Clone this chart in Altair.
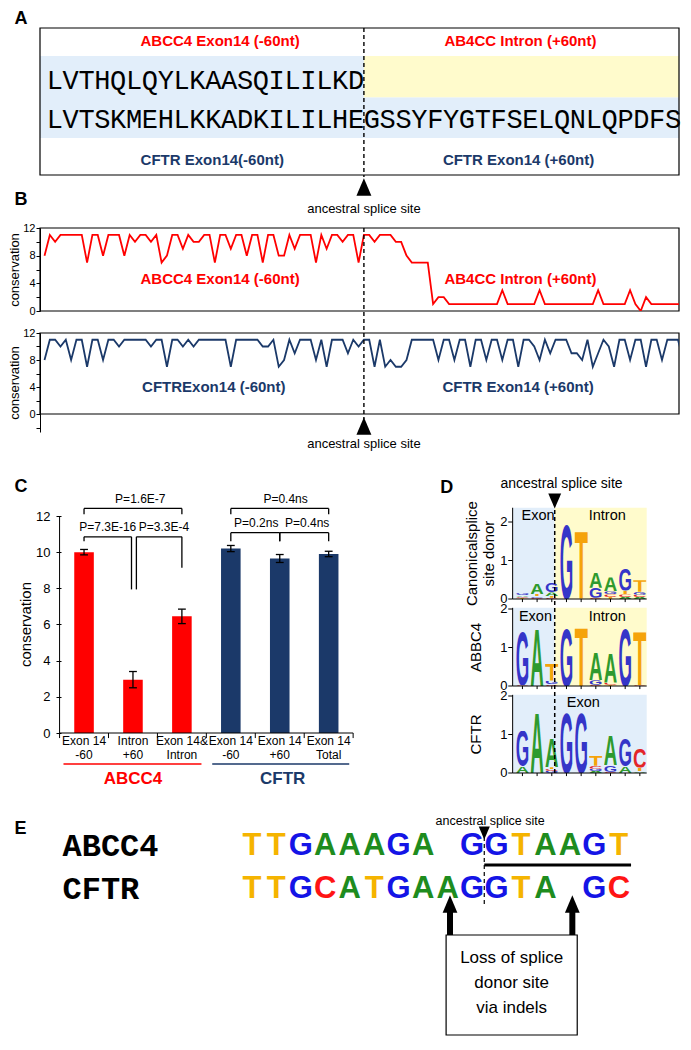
import altair as alt
import pandas as pd
from urllib.parse import quote

SANS = "Liberation Sans"
MONO = "Liberation Mono"
RED = "#FF0000"
NAVY = "#1B3969"
BLUE_BG = "#E2EEFA"
YELLOW_BG = "#FFFBCC"
W = 639  # plot-area width of every panel row (keeps the page inside the 675px body)

# ======================= data =======================
SPLICE_LABEL = "ancestral splice site"

# Panel A
A_TOP_LABELS = ["ABCC4 Exon14 (-60nt)", "AB4CC Intron (+60nt)"]
A_BOTTOM_LABELS = ["CFTR Exon14(-60nt)", "CFTR Exon14 (+60nt)"]
A_ABCC4_PEPTIDE = "LVTHQLQYLKAASQILILKD"
A_CFTR_PEPTIDE = "LVTSKMEHLKKADKILILHEGSSYFYGTFSELQNLQPDFS"

# Panel B (conservation per nucleotide, -60 .. +60)
B_ABCC4 = [8, 11, 10, 11, 11, 11, 11, 11, 7, 11, 11, 8, 11, 11, 11, 8, 11, 10, 11, 11,
           10, 11, 7, 8, 11, 11, 9, 11, 10, 10, 11, 11, 7, 11, 11, 9, 11, 11, 8, 11,
           11, 7, 11, 11, 8, 8, 11, 9, 11, 11, 11, 7, 11, 9, 11, 11, 10, 11, 11, 7,
           11, 11, 10, 11, 11, 11, 10, 10, 8, 7, 7, 7, 7, 1, 2, 2, 1, 1, 1, 1,
           1, 1, 1, 1, 1, 1, 3, 1, 1, 1, 1, 1, 1, 3, 1, 1, 1, 1, 1, 1,
           1, 1, 1, 1, 3, 1, 1, 1, 1, 1, 3, 1, 0, 2, 1, 1, 1, 1, 1, 1, 1]
B_CFTR = [8, 11, 11, 10, 11, 8, 11, 11, 7, 11, 11, 8, 11, 11, 10, 11, 11, 11, 11, 11,
          10, 11, 11, 7, 11, 11, 10, 11, 10, 11, 11, 11, 11, 11, 11, 7, 11, 11, 11, 11,
          11, 10, 10, 11, 7, 8, 11, 9, 11, 11, 11, 8, 11, 7, 11, 11, 11, 9, 11, 10,
          11, 11, 7, 11, 7, 8, 7, 7, 8, 11, 11, 11, 11, 11, 8, 11, 11, 8, 11, 11,
          7, 11, 11, 8, 11, 11, 8, 11, 11, 7, 11, 11, 10, 8, 11, 9, 11, 11, 11, 9,
          9, 8, 11, 7, 9, 11, 10, 7, 11, 11, 8, 11, 11, 7, 11, 11, 8, 11, 11, 11, 8]
B_SPLICE_INDEX = 60
B_TOP_LABELS = ["ABCC4 Exon14 (-60nt)", "AB4CC Intron (+60nt)"]
B_BOTTOM_LABELS = ["CFTRExon14 (-60nt)", "CFTR Exon14 (+60nt)"]

# Panel C
C_GENES = ["ABCC4", "ABCC4", "ABCC4", "CFTR", "CFTR", "CFTR"]
C_CATEGORIES = ["Exon 14\n-60", "Intron\n+60", "Exon 14&\nIntron",
                "Exon 14\n-60", "Exon 14\n+60", "Exon 14\nTotal"]
C_MEANS = [10.0, 2.95, 6.45, 10.2, 9.65, 9.9]
C_ERRORS = [0.15, 0.45, 0.4, 0.17, 0.22, 0.15]
C_P_LABELS = ["P=1.6E-7", "P=7.3E-16", "P=3.3E-4", "P=0.4ns", "P=0.2ns", "P=0.4ns"]
C_P_FROM = [0, 0, 1, 3, 3, 4]
C_P_TO = [2, 1, 2, 5, 4, 5]
C_P_LEVEL = [12.42, 10.85, 10.85, 12.42, 11.08, 11.08]
C_P_LEFT_END = [12.09, 10.61, 7.94, 12.09, 10.61, 10.61]
C_P_RIGHT_END = [12.09, 7.94, 9.14, 12.09, 10.61, 10.61]

# Panel D (sequence logos, bits per letter, bottom -> top)
D_TITLES = ["Canonicalsplice\nsite donor", "ABBC4", "CFTR"]
D_LOGOS = [
    [[("T", 0.03), ("C", 0.03), ("A", 0.04), ("G", 0.05)],
     [("C", 0.03), ("G", 0.04), ("T", 0.06), ("A", 0.28)],
     [("C", 0.03), ("T", 0.05), ("A", 0.09), ("G", 0.25)],
     [("G", 1.96)],
     [("T", 1.78)],
     [("C", 0.03), ("G", 0.26), ("A", 0.41)],
     [("T", 0.05), ("C", 0.07), ("G", 0.08), ("A", 0.36)],
     [("A", 0.05), ("C", 0.07), ("T", 0.1), ("G", 0.58)],
     [("A", 0.05), ("C", 0.06), ("G", 0.08), ("T", 0.3)]],
    [[("C", 0.02), ("G", 1.42)],
     [("A", 1.52)],
     [("C", 0.04), ("G", 0.1), ("T", 0.46)],
     [("G", 1.5)],
     [("T", 1.55)],
     [("C", 0.03), ("G", 0.12), ("A", 0.72)],
     [("T", 0.03), ("C", 0.06), ("A", 0.78)],
     [("G", 1.52)],
     [("C", 0.02), ("T", 1.42)]],
    [[("A", 0.17), ("G", 0.92)],
     [("A", 1.6)],
     [("G", 0.05), ("C", 0.05), ("T", 0.05), ("A", 0.76)],
     [("G", 1.6)],
     [("G", 1.6)],
     [("A", 0.05), ("G", 0.06), ("C", 0.08), ("T", 0.27)],
     [("C", 0.03), ("G", 0.17), ("A", 0.8)],
     [("A", 0.18), ("G", 0.72)],
     [("A", 0.04), ("T", 0.1), ("C", 0.5)]],
]

# Panel E
E_GENES = ["ABCC4", "CFTR"]
E_SEQUENCES = ["TTGAAAGA GGTAAGT", "TTGCATGAAGGTA GC"]
E_SPLICE_SLOT = 10
E_INDEL_SLOTS = [8, 13]
E_NOTE = "Loss of splice\ndonor site\nvia indels"

D_COLORS = {"A": "#2E9A2E", "C": "#E3262A", "G": "#3535C8", "T": "#F5A30A"}
E_COLORS = {"A": "#1E8C1E", "C": "#FF1414", "G": "#1414E6", "T": "#F5B400"}

# ======================= helpers =======================
def dom(va, pa, vb, pb, p_lo, p_hi):
    k = (vb - va) / (pb - pa)
    return [va + (p_lo - pa) * k, va + (p_hi - pa) * k]


def X(f, d):
    return alt.X(f, type="quantitative", scale=alt.Scale(domain=d, nice=False, zero=False), axis=None)


def Y(f, d, axis=None):
    return alt.Y(f, type="quantitative", scale=alt.Scale(domain=d, nice=False, zero=False), axis=axis)


def texts(rows, xd, yd, yaxis=None, **kw):
    df = pd.DataFrame(rows, columns=["x", "y", "t"])
    kw.setdefault("font", SANS)
    kw.setdefault("color", "black")
    kw.setdefault("baseline", "middle")
    return alt.Chart(df).mark_text(**kw).encode(x=X("x", xd), y=Y("y", yd, yaxis), text="t:N")


def rules(rows, xd, yd, yaxis=None, **kw):
    df = pd.DataFrame(rows, columns=["x", "x2", "y", "y2"])
    kw.setdefault("color", "black")
    return alt.Chart(df).mark_rule(**kw).encode(x=X("x", xd), x2="x2", y=Y("y", yd, yaxis), y2="y2")


def rects(rows, xd, yd, yaxis=None, **kw):
    df = pd.DataFrame(rows, columns=["x", "x2", "y", "y2", "c"])
    return alt.Chart(df).mark_rect(**kw).encode(
        x=X("x", xd), x2="x2", y=Y("y", yd, yaxis), y2="y2", fill=alt.Fill("c:N", scale=None))


def points(rows, xd, yd, yaxis=None, **kw):
    df = pd.DataFrame(rows, columns=["x", "y"])
    return alt.Chart(df).mark_point(filled=True, color="black", opacity=1, **kw).encode(
        x=X("x", xd), y=Y("y", yd, yaxis))


TRI_UP = "M0,-1L0.85,1L-0.85,1Z"
TRI_DOWN = "M0,1L0.85,-1L-0.85,-1Z"
DASH = [4, 3]
LBL = dict(fontSize=18, fontWeight="bold", align="left")

# ======================= Panel A =======================
xa = dom(0, 44, 1, 60.2, 37, 690)
ya = dom(0, 40, 1, 79.7, 205, 27)
ax_ = lambda px: (px - 44) / 16.2
ay_ = lambda px: (px - 40) / 39.7
A_SPLIT = len(A_ABCC4_PEPTIDE)

seq_rows = [[i + 0.5, 1, ch] for i, ch in enumerate(A_ABCC4_PEPTIDE)] + \
           [[i + 0.5, 2, ch] for i, ch in enumerate(A_CFTR_PEPTIDE)]

panel_a = alt.layer(
    rects([[xa[0], A_SPLIT, ay_(55), ay_(137), BLUE_BG],
           [A_SPLIT, xa[1], ay_(55), ay_(96.5), YELLOW_BG],
           [A_SPLIT, xa[1], ay_(96.5), ay_(137), BLUE_BG]], xa, ya),
    rects([[xa[0], xa[1], ay_(27), ay_(174), "transparent"]], xa, ya, stroke="black", strokeWidth=1.2),
    rules([[A_SPLIT, A_SPLIT, ay_(27), ay_(176)]], xa, ya, strokeDash=DASH, strokeWidth=1.4),
    texts(seq_rows, xa, ya, font=MONO, fontSize=27),
    texts([[ax_(221), 0, A_TOP_LABELS[0]], [ax_(528), 0, A_TOP_LABELS[1]]], xa, ya,
          fontSize=15, fontWeight="bold", color=RED),
    texts([[ax_(213), 3, A_BOTTOM_LABELS[0]], [ax_(526), 3, A_BOTTOM_LABELS[1]]], xa, ya,
          fontSize=15, fontWeight="bold", color=NAVY),
    points([[A_SPLIT, ay_(186)]], xa, ya, shape=TRI_UP, size=310),
    texts([[A_SPLIT, ay_(208), SPLICE_LABEL]], xa, ya, fontSize=13),
    texts([[ax_(11), ay_(18), "A"]], xa, ya, **LBL),
).properties(width=W, height=178)

# ======================= Panel B =======================
xb = dom(0, 41.6, 1, 47.04, 37, 690)
bx_ = lambda px: (px - 41.6) / 5.44


def b_axis(values):
    return alt.Axis(values=values, labelExpr="datum.value % 4 == 0 ? datum.label : ''",
                    title="conservation", titleFont=SANS, titleFontSize=13, titleFontWeight="normal",
                    titleColor="black", labelFont=SANS, labelFontSize=11, labelColor="black",
                    tickColor="black", domainColor="black", tickSize=4, grid=False,
                    labelOverlap=False, titlePadding=1, labelPadding=1)


def b_panel(values, color, labels, label_x, ydom, height, axis, label_y, extra):
    df = pd.DataFrame({"j": list(range(len(values))), "v": values})
    line = alt.Chart(df).mark_line(color=color, strokeWidth=1.8, clip=True).encode(
        x=X("j", xb), y=Y("v", ydom, axis))
    box = rects([[xb[0], xb[1], 0, 12, "transparent"]], xb, ydom, axis, stroke="black", strokeWidth=1.2)
    lab = texts([[bx_(label_x[0]), label_y, labels[0]], [bx_(label_x[1]), label_y, labels[1]]],
                xb, ydom, axis, fontSize=15, fontWeight="bold", color=color)
    return alt.layer(box, line, lab, *extra).properties(width=W, height=height)


yb1 = [0, 12]
ax_b1 = b_axis(list(range(0, 13, 2)))
b1_v = lambda px: (310 - px) * 12 / 83
panel_b1 = b_panel(
    B_ABCC4, RED, B_TOP_LABELS, (221, 528), yb1, 83, ax_b1, b1_v(278),
    [rules([[B_SPLICE_INDEX, B_SPLICE_INDEX, 12, b1_v(332)]], xb, yb1, ax_b1, strokeDash=DASH, strokeWidth=1.4),
     texts([[bx_(11), b1_v(199), "B"]], xb, yb1, ax_b1, **LBL)])

b2_v = lambda px: (413 - px) / 6.75
yb2 = [b2_v(431), 12]
ax_b2 = b_axis(list(range(-2, 13, 2)))
panel_b2 = b_panel(
    B_CFTR, NAVY, B_BOTTOM_LABELS, (214.6, 525.5), yb2, 99, ax_b2, b2_v(386),
    [rules([[B_SPLICE_INDEX, B_SPLICE_INDEX, 12, b2_v(418)]], xb, yb2, ax_b2, strokeDash=DASH, strokeWidth=1.4),
     points([[B_SPLICE_INDEX, b2_v(425)]], xb, yb2, ax_b2, shape=TRI_UP, size=310),
     texts([[B_SPLICE_INDEX, b2_v(443), SPLICE_LABEL]], xb, yb2, ax_b2, fontSize=13)])

# ======================= Panel C =======================
xc = dom(0, 82, 1, 132, 37, 690)
yc = dom(0, 732, 12, 515, 772, 453)
cx_ = lambda px: (px - 82) / 50
cy_ = lambda px: (732 - px) * 12 / 217
GENE_COLOR = {"ABCC4": RED, "CFTR": NAVY}

c_df = pd.DataFrame({"k": range(len(C_MEANS)), "m": C_MEANS, "e": C_ERRORS, "g": C_GENES})
c_df["x0"] = c_df["k"] - 0.2
c_df["x1"] = c_df["k"] + 0.2
c_df["zero"] = 0.0
c_df["lo"] = c_df["m"] - c_df["e"]
c_df["hi"] = c_df["m"] + c_df["e"]
c_df["col"] = c_df["g"].map(GENE_COLOR)
c_df["c0"] = c_df["k"] - 0.08
c_df["c1"] = c_df["k"] + 0.08

CA = alt.Axis(values=list(range(0, 13, 2)), domain=False, tickSize=5, tickColor="black",
              labelColor="black", labelFontSize=13, labelFont=SANS, title=None, offset=-21,
              grid=False, labelPadding=6, labelOverlap=False)

c_bars = alt.Chart(c_df).mark_rect().encode(
    x=X("x0", xc), x2="x1", y=Y("m", yc, CA), y2="zero", fill=alt.Fill("col:N", scale=None))
c_err = alt.Chart(c_df).mark_rule(color="black", strokeWidth=1.3).encode(
    x=X("k", xc), y=Y("lo", yc, CA), y2="hi")
c_cap_lo = alt.Chart(c_df).mark_rule(color="black", strokeWidth=1.3).encode(
    x=X("c0", xc), x2="c1", y=Y("lo", yc, CA))
c_cap_hi = alt.Chart(c_df).mark_rule(color="black", strokeWidth=1.3).encode(
    x=X("c0", xc), x2="c1", y=Y("hi", yc, CA))

leg_nudge_l = [0, 0, 0.07, 0, 0, 0]
leg_nudge_r = [0, -0.03, 0, 0, 0, 0]
text_nudge = [0.15, 0.0, 0.1, 0.12, 0.02, 0.06]
bracket_rows, p_rows = [], []
for i, lab in enumerate(C_P_LABELS):
    a = C_P_FROM[i] + leg_nudge_l[i]
    b = C_P_TO[i] + leg_nudge_r[i]
    lv = C_P_LEVEL[i]
    bracket_rows += [[a, b, lv, lv], [a, a, lv, C_P_LEFT_END[i]], [b, b, lv, C_P_RIGHT_END[i]]]
    p_rows.append([(a + b) / 2 + text_nudge[i], lv + 0.52, lab])

n = len(C_MEANS)
c_layer = alt.layer(
    c_bars, c_err, c_cap_lo, c_cap_hi,
    rules(bracket_rows, xc, yc, CA, strokeWidth=1.3),
    texts(p_rows, xc, yc, CA, fontSize=12),
    rules([[-0.5, -0.5, 0, 12], [-0.5, n - 0.5, 0, 0]], xc, yc, CA, strokeWidth=1),
    rules([[k - 0.5, k - 0.5, 0, -0.28] for k in range(n + 1)], xc, yc, CA, strokeWidth=1),
    texts([[k, cy_(735), C_CATEGORIES[k]] for k in range(n)], xc, yc, CA, fontSize=12,
          baseline="top", lineBreak="\n", lineHeight=14),
    rules([[-0.42, 2.4, cy_(763), cy_(763)]], xc, yc, CA, color=RED, strokeWidth=1.3),
    rules([[2.62, 5.42, cy_(763), cy_(763)]], xc, yc, CA, color=NAVY, strokeWidth=1.3),
    texts([[1.0, cy_(778), "ABCC4"]], xc, yc, CA, fontSize=17, fontWeight="bold", color=RED),
    texts([[4.06, cy_(778), "CFTR"]], xc, yc, CA, fontSize=17, fontWeight="bold", color=NAVY),
    texts([[cx_(23), 6.0, "conservation"]], xc, yc, CA, fontSize=15, angle=270),
    texts([[cx_(11), cy_(486), "C"]], xc, yc, CA, **LBL),
)

# ======================= Panel D =======================
xd = dom(0, 522.5, 1, 537.5, 37, 690)
yd = dom(0, 772, 1, 733.5, 772, 453)
dx_ = lambda px: (px - 522.5) / 15
dw_ = lambda px: (772 - px) / 38.5
D_BASE_PX = [598, 685, 772]
D_BG_TOP = [2.37, 2.03, 2.03]
offs = [dw_(b) for b in D_BASE_PX]
d_left, d_right = dx_(520), dx_(657)
d_split = dx_(563)


def letter_uri(ch, color):
    svg = ("<svg xmlns='http://www.w3.org/2000/svg' width='100' height='100' viewBox='0 0 100 100' "
           "preserveAspectRatio='none'><text x='0' y='100' textLength='100' lengthAdjust='spacingAndGlyphs' "
           "font-family='Liberation Sans, Arial, sans-serif' font-weight='bold' font-size='139.7' "
           f"fill='{color}'>{ch}</text></svg>")
    return "data:image/svg+xml;charset=utf-8," + quote(svg)


letter_rows = []
for pi, logo in enumerate(D_LOGOS):
    for p, col in enumerate(logo):
        cum = 0.0
        for ch, h in col:
            letter_rows.append({"x0": p + 0.04, "x1": p + 0.96, "y0": offs[pi] + cum,
                                "y1": offs[pi] + cum + h, "url": letter_uri(ch, D_COLORS[ch])})
            cum += h
letters_df = pd.DataFrame(letter_rows)
d_letters = alt.Chart(letters_df).mark_image(aspect=False).encode(
    x=X("x0", xd), x2="x1", y=Y("y0", yd), y2="y1", url="url:N")

bg_rows, ax_rows, tick_lab_rows = [], [], []
ncol = len(D_LOGOS[0])
for pi in range(3):
    o = offs[pi]
    top = o + D_BG_TOP[pi]
    if pi < 2:
        bg_rows += [[d_left, d_split, o, top, BLUE_BG], [d_split, d_right, o, top, YELLOW_BG]]
    else:
        bg_rows += [[d_left, d_right, o, top, BLUE_BG]]
    ax_rows += [[d_left, d_left, o, top], [d_left, d_right, o, o]]
    ax_rows += [[d_left - 0.3, d_left, o + v, o + v] for v in (0, 1, 2)]
    ax_rows += [[p + 0.5, p + 0.5, o, o - 0.08] for p in range(ncol)]
    tick_lab_rows += [[d_left - 0.35, o + v, str(v)] for v in (0, 1, 2)]

d_layer = alt.layer(
    rects(bg_rows, xd, yd),
    d_letters,
    rules(ax_rows, xd, yd, strokeWidth=1),
    texts(tick_lab_rows, xd, yd, fontSize=13, align="right"),
    texts([[dx_(478), offs[0] + 1.18, D_TITLES[0]]], xd, yd, fontSize=15, angle=270,
          lineBreak="\n", lineHeight=17),
    texts([[dx_(483), offs[1] + 1.0, D_TITLES[1]], [dx_(483), offs[2] + 1.0, D_TITLES[2]]], xd, yd,
          fontSize=15, angle=270),
    texts([[dx_(546), offs[0] + 2.16, "Exon"], [dx_(616.7), offs[0] + 2.16, "Intron"],
           [dx_(543.3), offs[1] + 1.8, "Exon"], [dx_(616.7), offs[1] + 1.8, "Intron"],
           [dx_(592.3), offs[2] + 1.82, "Exon"]], xd, yd, fontSize=14.5),
    rules([[d_split, d_split, 0, dw_(507)]], xd, yd, strokeDash=DASH, strokeWidth=1.5),
    points([[d_split, dw_(500)]], xd, yd, shape=TRI_DOWN, size=230),
    texts([[dx_(570), dw_(483.3), SPLICE_LABEL]], xd, yd, fontSize=14),
    texts([[dx_(446), dw_(487), "D"]], xd, yd, **LBL),
)

panel_cd = alt.layer(c_layer, d_layer).resolve_scale(x="independent", y="independent").properties(
    width=W, height=319)

# ======================= Panel E =======================
xe = dom(0, 241, 1, 266, 37, 690)
ye = dom(0, 845, 1, 888, 1034, 794)
ex_ = lambda px: (px - 241) / 25
ey_ = lambda px: (px - 845) / 43

e_rows = []
for r, seq in enumerate(E_SEQUENCES):
    for s, ch in enumerate(seq):
        if ch != " ":
            e_rows.append([s + 0.5, r, ch, E_COLORS[ch]])
e_df = pd.DataFrame(e_rows, columns=["x", "y", "t", "c"])
e_letters = alt.Chart(e_df).mark_text(font=SANS, fontWeight="bold", fontSize=31, baseline="middle").encode(
    x=X("x", xe), y=Y("y", ye), text="t:N", color=alt.Color("c:N", scale=None))

arrow_x = [s + 0.6 for s in E_INDEL_SLOTS]
box_l, box_r = ex_(452), ex_(586)
panel_e = alt.layer(
    texts([[ex_(60), r, g] for r, g in enumerate(E_GENES)], xe, ye, font=MONO, fontSize=32,
          fontWeight="bold", align="left"),
    e_letters,
    rules([[E_SPLICE_SLOT, E_SPLICE_SLOT, ey_(836), ey_(905)]], xe, ye, strokeDash=DASH, strokeWidth=1.2),
    points([[E_SPLICE_SLOT, ey_(832)]], xe, ye, shape=TRI_DOWN, size=170),
    texts([[ex_(497), ey_(820), SPLICE_LABEL]], xe, ye, fontSize=12.5),
    rules([[E_SPLICE_SLOT, len(E_SEQUENCES[0]), ey_(864), ey_(864)]], xe, ye, strokeWidth=3),
    rules([[a, a, ey_(908), ey_(934)] for a in arrow_x], xe, ye, strokeWidth=6),
    points([[a, ey_(903)] for a in arrow_x], xe, ye, shape=TRI_UP, size=300),
    rects([[box_l, box_r, ey_(934), ey_(1034), "white"]], xe, ye, stroke="black", strokeWidth=1.2),
    texts([[ex_(519), ey_(957), E_NOTE]], xe, ye, fontSize=17, lineBreak="\n", lineHeight=25),
    texts([[ex_(11), ey_(828), "E"]], xe, ye, **LBL),
).properties(width=W, height=240)

chart = alt.vconcat(panel_a, panel_b1, panel_b2, panel_cd, panel_e, spacing=22, bounds="flush").properties(
    padding={"left": 0, "top": 2, "right": 0, "bottom": 0}, background="white"
).configure_view(stroke=None)

chart.save("out.html", embed_options={"renderer": "svg", "actions": False})
